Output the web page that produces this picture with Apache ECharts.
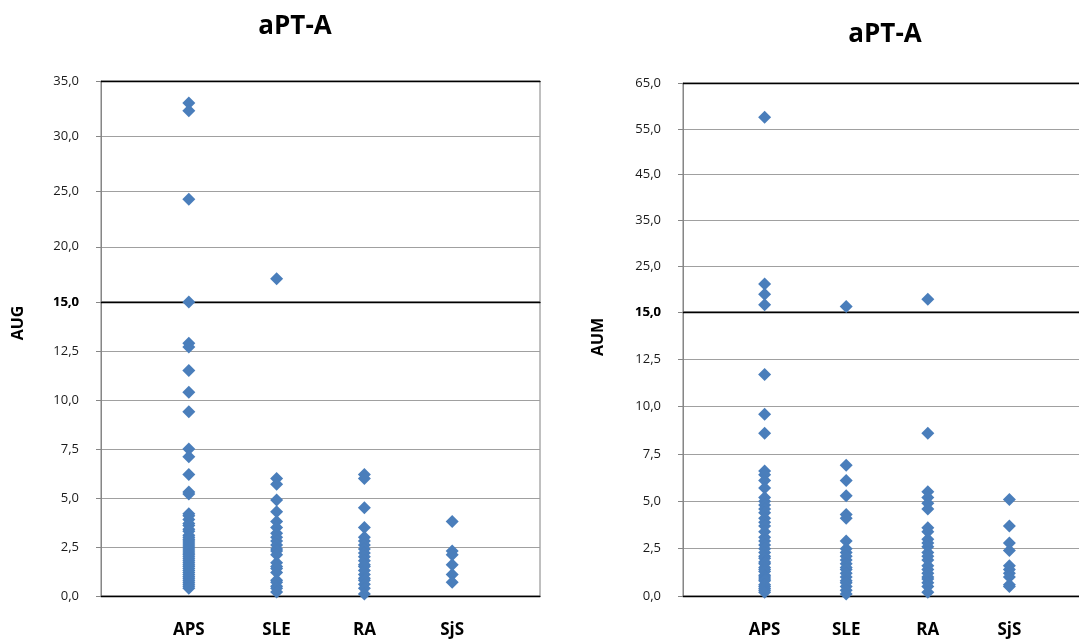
<!DOCTYPE html>
<html>
<head>
<meta charset="utf-8">
<script src="https://cdn.jsdelivr.net/npm/echarts@6/dist/echarts.min.js"></script>
<style>
html,body{margin:0;padding:0;background:#fff;}
#chart{width:1079px;height:641px;}
</style>
</head>
<body>
<div id="chart"></div>
<script>
// ---- data ----
const categories = ['APS', 'SLE', 'RA', 'SjS'];
const titles = ['aPT-A', 'aPT-A'];
const axisNames = ['AUG', 'AUM'];

// Left chart (AUG)
const apsAUG = [33.0, 32.3, 24.3, 15.0, 12.9, 12.7, 11.5, 10.4, 9.4, 7.5, 7.1, 6.2, 5.3, 5.2, 4.2, 4.1, 3.9, 3.7, 3.6, 3.4, 3.3, 3.1, 3.0, 2.9, 2.8, 2.7, 2.6, 2.5, 2.4, 2.3, 2.2, 2.1, 2.0, 1.9, 1.8, 1.7, 1.6, 1.5, 1.4, 1.3, 1.2, 1.1, 1.0, 0.9, 0.8, 0.7, 0.6, 0.5, 0.4];
const sleAUG = [17.1, 6.0, 5.7, 4.9, 4.3, 3.8, 3.5, 3.2, 3.0, 2.8, 2.6, 2.4, 2.3, 2.1, 1.7, 1.5, 1.4, 1.2, 0.8, 0.7, 0.5, 0.4, 0.2];
const raAUG = [6.2, 6.0, 4.5, 3.5, 3.0, 2.8, 2.6, 2.4, 2.2, 2.0, 1.8, 1.6, 1.5, 1.3, 1.1, 0.9, 0.8, 0.6, 0.4, 0.1];
const sjsAUG = [3.8, 2.3, 2.1, 1.6, 1.1, 0.7];

// Right chart (AUM)
const apsAUM = [57.5, 21.1, 18.9, 16.6, 11.7, 9.6, 8.6, 6.6, 6.4, 6.1, 5.7, 5.2, 5.0, 4.8, 4.6, 4.4, 4.1, 3.9, 3.7, 3.4, 3.1, 2.9, 2.7, 2.5, 2.3, 2.1, 2.0, 1.8, 1.7, 1.5, 1.4, 1.3, 1.1, 1.0, 0.9, 0.8, 0.6, 0.5, 0.4, 0.3, 0.2];
const sleAUM = [16.2, 6.9, 6.1, 5.3, 4.3, 4.1, 2.9, 2.5, 2.3, 2.1, 1.9, 1.7, 1.5, 1.4, 1.2, 1.0, 0.8, 0.7, 0.5, 0.3, 0.1];
const raAUM = [17.8, 8.6, 5.5, 5.2, 4.9, 4.6, 3.6, 3.4, 3.0, 2.8, 2.6, 2.3, 2.1, 1.9, 1.6, 1.4, 1.2, 1.0, 0.9, 0.7, 0.5, 0.2];
const sjsAUM = [5.1, 3.7, 2.8, 2.4, 1.6, 1.4, 1.2, 1.0, 0.6, 0.5];

// axis break value and ranges
const breakValue = 15;
const lowerRange = [0, 15, 2.5];
const upperRangeAUG = [15, 35, 5];
const upperRangeAUM = [15, 65, 10];

// ---- build ----
const FONT = 'Open Sans';
const COLOR = '#4a7ebb';
const panels = [
  {groups: [apsAUG, sleAUG, raAUG, sjsAUG], upper: upperRangeAUG,
   left: 101, width: 439, top: 81, brk: 302, bottom: 596},
  {groups: [apsAUM, sleAUM, raAUM, sjsAUM], upper: upperRangeAUM,
   left: 683, width: 408, top: 83, brk: 312, bottom: 596}
];

function fmt(v) { return v.toFixed(1).replace('.', ','); }

const grid = [], xAxis = [], yAxis = [], series = [];
panels.forEach((p, pi) => {
  const gU = grid.length;
  grid.push({left: p.left, width: p.width, top: p.top, height: p.brk - p.top,
             show: true, borderColor: '#808080', borderWidth: 1, containLabel: false, outerBoundsMode: 'none'});
  const gL = grid.length;
  grid.push({left: p.left, width: p.width, top: p.brk, height: p.bottom - p.brk,
             show: true, borderColor: '#808080', borderWidth: 1, containLabel: false, outerBoundsMode: 'none'});

  // upper grid x axis (top black line)
  const xU = xAxis.length;
  xAxis.push({type: 'value', gridIndex: gU, min: 0, max: 5, interval: 1, position: 'top',
    axisLine: {show: true, onZero: false, lineStyle: {color: '#000', width: 1.3}},
    axisTick: {show: false}, axisLabel: {show: false}, splitLine: {show: false}});
  // lower grid x axis (bottom, categories)
  const xL = xAxis.length;
  xAxis.push({type: 'value', gridIndex: gL, min: 0, max: 5, interval: 1, position: 'bottom',
    axisLine: {show: true, onZero: false, lineStyle: {color: '#000', width: 1.3}},
    axisTick: {show: false}, splitLine: {show: false},
    axisLabel: {show: true, margin: 26, fontFamily: FONT, fontSize: 17, fontWeight: 'bold', color: '#000',
      formatter: v => (v >= 1 && v <= 4) ? categories[v - 1] : ''}});
  // break line (black) at top of lower grid
  xAxis.push({type: 'value', gridIndex: gL, min: 0, max: 5, interval: 1, position: 'top',
    axisLine: {show: true, onZero: false, lineStyle: {color: '#000', width: 1.3}},
    axisTick: {show: false}, axisLabel: {show: false}, splitLine: {show: false}});

  const yU = yAxis.length;
  yAxis.push({type: 'value', gridIndex: gU, min: p.upper[0], max: p.upper[1], interval: p.upper[2],
    axisLine: {show: true, onZero: false, lineStyle: {color: '#868686'}},
    axisTick: {show: true, length: 5, lineStyle: {color: '#868686'}},
    showMinLabel: false,
    axisLabel: {margin: 22, fontFamily: FONT, fontSize: 13, color: '#1a1a1a', formatter: fmt},
    splitLine: {show: true, lineStyle: {color: '#a0a0a0', width: 1}}});
  const yL = yAxis.length;
  yAxis.push({type: 'value', gridIndex: gL, min: lowerRange[0], max: lowerRange[1], interval: lowerRange[2],
    axisLine: {show: true, onZero: false, lineStyle: {color: '#868686'}},
    axisTick: {show: true, length: 5, lineStyle: {color: '#868686'}},
    axisLabel: {margin: 22, fontFamily: FONT, fontSize: 13, color: '#1a1a1a',
      formatter: v => v === breakValue ? '{b|' + fmt(v) + '}' : fmt(v),
      rich: {b: {fontFamily: FONT, fontSize: 13, fontWeight: 'bold', color: '#000'}}},
    splitLine: {show: true, lineStyle: {color: '#a0a0a0', width: 1}}});

  const upData = [], loData = [];
  p.groups.forEach((vals, ci) => {
    vals.forEach(v => {
      if (v > breakValue) upData.push([ci + 1, v]); else loData.push([ci + 1, v]);
    });
  });
  const common = {type: 'scatter', symbol: 'diamond', symbolSize: [13, 13], clip: false,
    itemStyle: {color: COLOR, opacity: 1}, silent: true, animation: false};
  series.push(Object.assign({}, common, {xAxisIndex: xU, yAxisIndex: yU, data: upData}));
  series.push(Object.assign({}, common, {xAxisIndex: xL, yAxisIndex: yL, data: loData}));
});

const option = {
  animation: false,
  backgroundColor: '#fff',
  title: [
    {text: titles[0], left: 290, top: 9, textAlign: 'center',
     textStyle: {fontFamily: FONT, fontSize: 26, fontWeight: 'bold', color: '#000'}},
    {text: titles[1], left: 880, top: 17, textAlign: 'center',
     textStyle: {fontFamily: FONT, fontSize: 26, fontWeight: 'bold', color: '#000'}}
  ],
  grid, xAxis, yAxis, series,
  graphic: [
    {type: 'text', x: 18, y: 323, rotation: Math.PI / 2,
     style: {text: axisNames[0], font: 'bold 16px "Open Sans"', fill: '#000', align: 'center', verticalAlign: 'middle'}},
    {type: 'text', x: 598, y: 337, rotation: Math.PI / 2,
     style: {text: axisNames[1], font: 'bold 16px "Open Sans"', fill: '#000', align: 'center', verticalAlign: 'middle'}}
  ]
};

const chart = echarts.init(document.getElementById('chart'), null, {renderer: 'canvas'});
chart.setOption(option);
</script>
</body>
</html>
